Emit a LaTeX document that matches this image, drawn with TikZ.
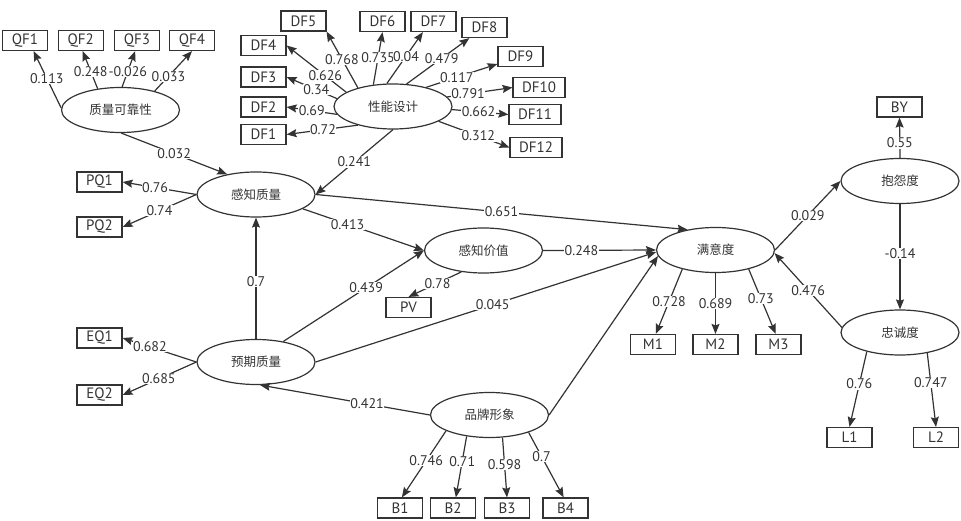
\documentclass[tikz,border=0pt]{standalone}
\usepackage{fontspec}
\setmainfont{PT Sans}
\newfontfamily\cjk{Noto Sans CJK SC}
\usetikzlibrary{arrows.meta,shapes.geometric}
\definecolor{ink}{HTML}{333333}
\tikzset{
  latent/.style={ellipse, draw=ink, line width=1.2pt, minimum width=118pt, minimum height=45pt, inner sep=0pt, text=ink, font=\cjk\fontsize{12.5}{14}\selectfont},
  manifest/.style={rectangle, draw=ink, line width=1.2pt, minimum width=45pt, minimum height=20pt, inner xsep=9pt, inner ysep=2pt, text=ink, font=\fontsize{15}{17}\selectfont},
  lnk/.style={draw=ink, line width=1.2pt, -{Stealth[length=10pt,width=8pt,inset=1.5pt]}},
  coef/.style={fill=white, inner sep=0.5pt, text=ink, font=\fontsize{14}{16}\selectfont},
}

\begin{document}
\begin{tikzpicture}[x=1pt, y=-1pt]
		%%%%% START %%%%%
		\useasboundingbox (0,0) rectangle (961,521);
		
		% latent variables
		\node[latent] (quality) at (120.5,110) {质量可靠性};
		\node[latent] (design) at (393,106.5) {性能设计};
		\node[latent] (perceived) at (256,194.5) {感知质量};
		\node[latent] (value) at (483.5,250.5) {感知价值};
		\node[latent] (expect) at (256,362) {预期质量};
		\node[latent] (brand) at (489.5,415) {品牌形象};
		\node[latent] (satis) at (715.5,250) {满意度};
		\node[latent] (complain) at (900,181) {抱怨度};
		\node[latent] (loyal) at (900,332.5) {忠诚度};
		
		% indicators
		\node[manifest] (qf1) at (25,40.5) {QF1};
		\node[manifest] (qf2) at (80.8,40.5) {QF2};
		\node[manifest] (qf3) at (137,40.5) {QF3};
		\node[manifest] (qf4) at (192,40.5) {QF4};
		
		\node[manifest] (df1) at (263.5,134.5) {DF1};
		\node[manifest] (df2) at (263.5,107) {DF2};
		\node[manifest] (df3) at (263.5,77) {DF3};
		\node[manifest] (df4) at (263.5,45.5) {DF4};
		\node[manifest] (df5) at (303.5,21) {DF5};
		\node[manifest] (df6) at (382.5,21.5) {DF6};
		\node[manifest] (df7) at (433.5,21.5) {DF7};
		\node[manifest] (df8) at (484.5,27.5) {DF8};
		\node[manifest] (df9) at (520.5,56.5) {DF9};
		\node[manifest] (df10) at (539,87.5) {DF10};
		\node[manifest] (df11) at (535,114.5) {DF11};
		\node[manifest] (df12) at (536,147.5) {DF12};
		
		\node[manifest] (pq1) at (99.5,182) {PQ1};
		\node[manifest] (pq2) at (99.5,227) {PQ2};
		\node[manifest] (eq1) at (99.5,338) {EQ1};
		\node[manifest] (eq2) at (99.5,395) {EQ2};
		\node[manifest] (pvx) at (408.5,307.5) {PV};
		
		\node[manifest] (b1) at (400,508) {B1};
		\node[manifest] (b2) at (453,508) {B2};
		\node[manifest] (b3) at (507,508) {B3};
		\node[manifest] (b4) at (565.5,508) {B4};
		
		\node[manifest] (m1) at (653,344.5) {M1};
		\node[manifest] (m2) at (715.5,344.5) {M2};
		\node[manifest] (m3) at (778.5,344.5) {M3};
		
		\node[manifest] (by) at (899.5,107) {BY};
		\node[manifest] (l1) at (849.5,437.5) {L1};
		\node[manifest] (l2) at (936,437.5) {L2};
		
		% loadings
		\draw[lnk] (quality.178) -- node[coef, pos=.52] {0.113} (qf1.-51);
		\draw[lnk] (quality.137) -- node[coef, pos=.46] {0.248} (qf2.-80);
		\draw[lnk] (quality.86) -- node[coef, pos=.44] {-0.026} (qf3.-100);
		\draw[lnk] (quality.29) -- node[coef, pos=.37] {0.033} (qf4.south);
		
		\draw[lnk] (design.208) -- node[coef, pos=.49] {0.72} (df1.east);
		\draw[lnk] (design.188) -- node[coef, pos=.5] {0.69} (df2.east);
		\draw[lnk] (design.172) -- node[coef, pos=.41] {0.34} (df3.east);
		\draw[lnk] (design.163) -- node[coef, pos=.35] {0.626} (df4.east);
		\draw[lnk] (design.152) -- node[coef, pos=.51] {0.768} (df5.south east);
		\draw[lnk] (design.132) -- node[coef, pos=.52] {0.735} (df6.south);
		\draw[lnk] (design.105) -- node[coef, pos=.53] {0.04} (df7.-135);
		\draw[lnk] (design.59) -- node[coef, pos=.56] {0.479} (df8.-145);
		\draw[lnk] (design.30) -- node[coef, pos=.43] {0.117} (df9.-162);
		\draw[lnk] (design.10) -- node[coef, pos=.32] {0.791} (df10.west);
		\draw[lnk] (design.-3) -- node[coef, pos=.47] {0.662} (df11.west);
		\draw[lnk] (design.-18) -- node[coef, pos=.56] {0.312} (df12.west);
		
		\draw[lnk] (perceived.west) -- node[coef, pos=.56] {0.76} (pq1.east);
		\draw[lnk] (perceived.west) -- node[coef, pos=.5] {0.74} (pq2.east);
		\draw[lnk] (expect.west) -- node[coef, pos=.63] {0.682} (eq1.east);
		\draw[lnk] (expect.west) -- node[coef, pos=.51] {0.685} (eq2.east);
		\draw[lnk] (value.-136) -- node[coef, pos=.45] {0.78} (pvx.north);
		
		\draw[lnk] (brand.-160) -- node[coef, pos=.45] {0.746} (b1.80);
		\draw[lnk] (brand.-137) -- node[coef, pos=.41] {0.71} (b2.75);
		\draw[lnk] (brand.-60) -- node[coef, pos=.45] {0.598} (b3.north);
		\draw[lnk] (brand.-24) -- node[coef, pos=.37] {0.7} (b4.100);
		
		\draw[lnk] (satis.-150) -- node[coef, pos=.5] {0.728} (m1.75);
		\draw[lnk] (satis.south) -- node[coef, pos=.5] {0.689} (m2.north);
		\draw[lnk] (satis.-30) -- node[coef, pos=.45] {0.73} (m3.105);
		
		\draw[lnk] (complain.north) -- node[coef, pos=.37] {0.55} (by.south);
		\draw[lnk] (loyal.-150) -- node[coef, pos=.43] {0.76} (l1.north);
		\draw[lnk] (loyal.-37) -- node[coef, pos=.4] {0.747} (l2.north);
		
		% structural paths
		\draw[lnk] (quality.-88) -- node[coef, pos=.5] {0.032} (perceived.145);
		\draw[lnk] (design.south) -- node[coef, pos=.5] {0.241} (perceived.east);
		\draw[lnk] (expect.north) -- node[coef, pos=.47] {0.7} (perceived.south);
		\draw[lnk] (perceived.-17) -- node[coef, pos=.37] {0.413} (value.west);
		\draw[lnk] (expect.37) -- node[coef, pos=.59] {0.439} (value.west);
		\draw[lnk] (perceived.east) -- node[coef, pos=.5] {0.651} (satis.144);
		\draw[lnk] (value.east) -- node[coef, pos=.34] {0.248} (satis.west);
		\draw[lnk] (expect.east) -- node[coef, pos=.52] {0.045} (satis.182);
		\draw[lnk] (brand.east) -- (satis.186);
		\draw[lnk] (brand.west) -- node[coef, pos=.37] {0.421} (expect.-80);
		\draw[lnk] (satis.east) -- node[coef, pos=.5] {0.029} (complain.west);
		\draw[lnk] (complain.south) -- node[coef, pos=.47] {-0.14} (loyal.north);
		\draw[lnk] (loyal.175) -- node[coef, pos=.5] {0.476} (satis.-3);
		%%%%% END %%%%%
\end{tikzpicture}
\end{document}
